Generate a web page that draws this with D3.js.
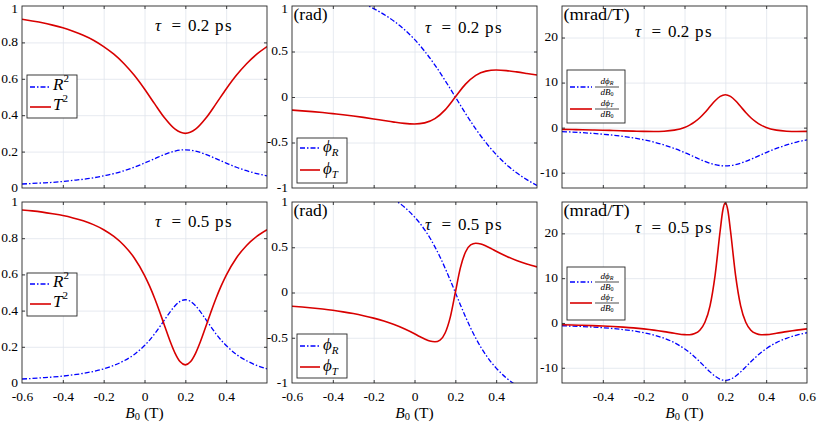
<!DOCTYPE html>
<html><head><meta charset="utf-8">
<script src="https://cdn.jsdelivr.net/npm/d3@7"></script>
<style>
body{margin:0;background:#fff}
svg{display:block}
text{font-family:"Liberation Serif","DejaVu Serif",serif;fill:#000}
</style>
</head><body>
<svg id="c" width="817" height="423"></svg>
<script>
// ---- data (B0 in T) ----
const B = [-0.6,-0.55,-0.5,-0.45,-0.4,-0.35,-0.3,-0.25,-0.2,-0.15,-0.1,-0.05,0,0.05,0.1,0.15,0.2,0.25,0.3,0.35,0.4,0.45,0.5,0.55,0.6];
const BF = [-0.6,-0.55,-0.5,-0.45,-0.4,-0.35,-0.3,-0.25,-0.2,-0.15,-0.1,-0.05,0,0.025,0.05,0.075,0.1,0.125,0.15,0.175,0.2,0.225,0.25,0.275,0.3,0.325,0.35,0.375,0.4,0.45,0.5,0.55,0.6];
const BP = [-0.6,-0.55,-0.5,-0.45,-0.4,-0.35,-0.3,-0.25,-0.2,-0.15,-0.1,-0.05,0,0.025,0.05,0.075,0.1,0.125,0.15,0.175,0.1875,0.2,0.2125,0.225,0.25,0.275,0.3,0.325,0.35,0.375,0.4,0.45,0.5,0.55,0.6];

// tau = 0.2 ps
const R2_a = [0.022,0.025,0.028,0.031,0.036,0.042,0.048,0.056,0.067,0.079,0.095,0.114,0.137,0.161,0.185,0.203,0.21,0.203,0.185,0.161,0.137,0.114,0.095,0.079,0.067];
const T2_a = [0.927,0.918,0.908,0.895,0.880,0.861,0.839,0.812,0.777,0.735,0.683,0.619,0.544,0.462,0.383,0.323,0.300,0.323,0.383,0.462,0.544,0.619,0.683,0.735,0.777];
const phiR_a = [1.241,1.222,1.199,1.173,1.144,1.110,1.071,1.025,0.972,0.908,0.833,0.742,0.633,0.502,0.351,0.181,0,-0.181,-0.351,-0.502,-0.633,-0.742,-0.833,-0.908,-0.972];
const phiT_a = [-0.144,-0.152,-0.161,-0.171,-0.183,-0.195,-0.209,-0.224,-0.241,-0.259,-0.276,-0.290,-0.296,-0.284,-0.238,-0.141,0,0.141,0.238,0.284,0.296,0.290,0.276,0.259,0.241];
const dR_a = [-0.88,-0.99,-1.12,-1.28,-1.46,-1.68,-1.96,-2.29,-2.70,-3.21,-3.85,-4.62,-5.53,-6.53,-7.50,-8.22,-8.5,-8.22,-7.50,-6.53,-5.53,-4.62,-3.85,-3.21,-2.70];
const dT_a = [-0.38,-0.42,-0.46,-0.51,-0.57,-0.64,-0.71,-0.77,-0.83,-0.85,-0.79,-0.56,0.03,0.55,1.26,2.19,3.36,4.68,5.97,6.93,7.30,6.93,5.97,4.68,3.36,2.19,1.26,0.55,0.03,-0.56,-0.79,-0.85,-0.83];

// tau = 0.5 ps
const R2_b = [0.022,0.025,0.029,0.033,0.038,0.045,0.053,0.064,0.078,0.097,0.123,0.158,0.207,0.237,0.272,0.311,0.352,0.392,0.427,0.451,0.46,0.451,0.427,0.392,0.352,0.311,0.272,0.237,0.207,0.158,0.123,0.097,0.078];
const T2_b = [0.956,0.951,0.944,0.935,0.925,0.912,0.896,0.875,0.847,0.810,0.760,0.691,0.595,0.535,0.467,0.391,0.311,0.232,0.164,0.117,0.100,0.117,0.164,0.232,0.311,0.391,0.467,0.535,0.595,0.691,0.760,0.810,0.847];
const phiR_b = [1.348,1.334,1.318,1.299,1.278,1.253,1.223,1.188,1.146,1.094,1.028,0.944,0.835,0.769,0.692,0.605,0.504,0.393,0.269,0.137,0,-0.137,-0.269,-0.393,-0.504,-0.605,-0.692,-0.769,-0.835,-0.944,-1.028,-1.094,-1.146];
const phiT_b = [-0.151,-0.160,-0.171,-0.183,-0.197,-0.214,-0.233,-0.256,-0.283,-0.315,-0.354,-0.401,-0.456,-0.487,-0.514,-0.537,-0.545,-0.526,-0.448,-0.275,0,0.275,0.448,0.526,0.545,0.537,0.514,0.487,0.456,0.401,0.354,0.315,0.283];
const dR_b = [-0.62,-0.70,-0.80,-0.92,-1.07,-1.25,-1.48,-1.78,-2.18,-2.70,-3.42,-4.39,-5.76,-6.60,-7.58,-8.67,-9.80,-10.92,-11.89,-12.56,-12.8,-12.56,-11.89,-10.92,-9.80,-8.67,-7.58,-6.60,-5.76,-4.39,-3.42,-2.70,-2.18];
const dT_b = [-0.40,-0.45,-0.52,-0.59,-0.68,-0.79,-0.93,-1.10,-1.32,-1.59,-1.93,-2.31,-2.61,-2.62,-2.37,-1.61,0.16,3.83,10.7,20.7,25.1,26.8,25.1,20.7,10.7,3.83,0.16,-1.61,-2.37,-2.62,-2.61,-2.31,-1.93,-1.59,-1.32];

// ticks
const XGRID = [-0.4,-0.2,0,0.2,0.4];
const XLAB_A = [-0.6,-0.4,-0.2,0,0.2,0.4];
const XLAB_B = [-0.4,-0.2,0,0.2,0.4,0.6];
const YT_1 = [0,0.2,0.4,0.6,0.8,1];
const YT_2 = [-1,-0.5,0,0.5,1];
const YT_3 = [-10,0,10,20];
const TAUS = ["0.2","0.5"];

// ---- layout ----
const FONT='"Liberation Serif","DejaVu Serif",serif';
const RED="#d80000", BLUE="#0000ff", GRID="#dfe5ec", FRAME="#262626";
const rows=[{y0:6,y1:188},{y0:202,y1:383}];
const cols=[{x0:22,x1:267},{x0:292,x1:537},{x0:562,x1:807}];
const svg=d3.select("#c");
svg.append("rect").attr("width",817).attr("height",423).attr("fill","#fff");

const panels=[
 {r:0,c:0,yd:[0,1],yt:YT_1,s:[[B,R2_a,"b"],[B,T2_a,"r"]],tau:[155,31],leg:{kind:"sq",box:[27,77,75,118],ys:[87,107],lx:[30,51],names:["R","T"]}},
 {r:0,c:1,yd:[-1,1],yt:YT_2,s:[[B,phiR_a,"b"],[B,phiT_a,"r"]],tau:[425,33],unit:"(rad)",leg:{kind:"phi",box:[297,347,138,183],ys:[148,170],lx:[300,320],names:["R","T"]}},
 {r:0,c:2,yd:[-13.4,27],yt:YT_3,s:[[B,dR_a,"b"],[BF,dT_a,"r"]],tau:[635,37],unit:"(mrad/T)",leg:{kind:"frac",box:[567,625,70,123],ys:[87,109],lx:[570,592],names:["R","T"]}},
 {r:1,c:0,yd:[0,1],yt:YT_1,s:[[BF,R2_b,"b"],[BF,T2_b,"r"]],tau:[155,227],xl:XLAB_A,leg:{kind:"sq",box:[27,77,273,316],ys:[284,304],lx:[30,51],names:["R","T"]}},
 {r:1,c:1,yd:[-1,1],yt:YT_2,s:[[BF,phiR_b,"b"],[BF,phiT_b,"r"]],tau:[425,230],unit:"(rad)",xl:XLAB_A,leg:{kind:"phi",box:[297,347,334,378],ys:[346,367],lx:[300,320],names:["R","T"]}},
 {r:1,c:2,yd:[-13.4,27],yt:YT_3,s:[[BF,dR_b,"b"],[BP,dT_b,"r"]],tau:[635,233],unit:"(mrad/T)",xl:XLAB_B,leg:{kind:"frac",box:[567,625,267,320],ys:[282,303],lx:[570,592],names:["R","T"]}}
];

function styleLine(sel,t){
  if(t==="b") sel.attr("stroke",BLUE).attr("stroke-width",1.3).attr("stroke-dasharray","5,2,1.5,2");
  else sel.attr("stroke",RED).attr("stroke-width",1.6);
}
function txt(sel,size){return sel.attr("font-family",FONT).attr("font-size",size).attr("fill","#000");}

panels.forEach((p,i)=>{
  const {x0,x1}=cols[p.c], {y0,y1}=rows[p.r];
  const w=x1-x0,h=y1-y0;
  const xs=d3.scaleLinear([-0.6,0.6],[x0,x1]);
  const ys=d3.scaleLinear(p.yd,[y1,y0]);
  const g=svg.append("g");
  const cid="clip"+i;
  g.append("clipPath").attr("id",cid).append("rect").attr("x",x0).attr("y",y0).attr("width",w).attr("height",h);
  const ygrid=p.yt.filter(v=>ys(v)>y0+1&&ys(v)<y1-1);
  g.append("g").attr("transform",`translate(0,${y1})`)
    .call(d3.axisBottom(xs).tickValues(XGRID).tickSize(-h).tickFormat(""))
    .call(s=>{s.select(".domain").remove();s.selectAll("line").attr("stroke",GRID).attr("stroke-width",0.8);});
  g.append("g").attr("transform",`translate(${x0},0)`)
    .call(d3.axisLeft(ys).tickValues(ygrid).tickSize(-w).tickFormat(""))
    .call(s=>{s.select(".domain").remove();s.selectAll("line").attr("stroke",GRID).attr("stroke-width",0.8);});
  const line=d3.line().x(d=>xs(d[0])).y(d=>ys(d[1])).curve(d3.curveMonotoneX);
  const lg=g.append("g").attr("clip-path",`url(#${cid})`);
  p.s.forEach(([xa,ya,t])=>{
    const pts=xa.map((x,k)=>[x,ya[k]]);
    lg.append("path").datum(pts).attr("d",line).attr("fill","none").call(styleLine,t);
  });
  g.append("rect").attr("x",x0).attr("y",y0).attr("width",w).attr("height",h)
    .attr("fill","none").attr("stroke",FRAME).attr("stroke-width",0.9);
  const tk=s=>{s.select(".domain").remove();s.selectAll("line").attr("stroke",FRAME).attr("stroke-width",0.9);};
  g.append("g").attr("transform",`translate(0,${y1})`).call(d3.axisBottom(xs).tickValues(XGRID).tickSize(-3).tickFormat("")).call(tk);
  g.append("g").attr("transform",`translate(0,${y0})`).call(d3.axisTop(xs).tickValues(XGRID).tickSize(-3).tickFormat("")).call(tk);
  g.append("g").attr("transform",`translate(${x0},0)`).call(d3.axisLeft(ys).tickValues(ygrid).tickSize(-3).tickFormat("")).call(tk);
  g.append("g").attr("transform",`translate(${x1},0)`).call(d3.axisRight(ys).tickValues(ygrid).tickSize(-3).tickFormat("")).call(tk);
  // y tick labels: keep the top label inside the picture
  g.append("g").attr("transform",`translate(${x0},0)`)
    .call(d3.axisLeft(ys).tickValues(p.yt).tickSize(0).tickPadding(4).tickFormat(d=>String(d)))
    .call(s=>{s.select(".domain").remove();
      s.selectAll("text").call(txt,13.5).attr("dy",0)
        .attr("y",function(d){const b=ys(d)+3.4;return (b<12.5? 12.5-ys(d) : 3.4);});});
  if(p.xl){
    g.append("g").attr("transform",`translate(0,${y1})`)
      .call(d3.axisBottom(xs).tickValues(p.xl).tickSize(0).tickFormat(d=>String(d)))
      .call(s=>{s.select(".domain").remove();s.selectAll("text").call(txt,13.5).attr("y",18.2).attr("dy",0);});
    const xt=g.append("text").attr("x",(x0+x1)/2).attr("y",417.5).attr("text-anchor","middle").call(txt,15.5);
    xt.append("tspan").attr("font-style","italic").text("B");
    xt.append("tspan").attr("font-size",10.5).attr("dy",2.5).text("0");
    xt.append("tspan").attr("dy",-2.5).text(" (T)");
  }
  if(p.unit){
    g.append("text").attr("x",x0+1.5).attr("y",y0+14).call(txt,16).text(p.unit)
      .attr("textLength",p.unit==="(rad)"?34:66).attr("lengthAdjust","spacingAndGlyphs");
  }
  const [tx,ty]=p.tau;
  const tt=g.append("text").attr("x",tx).attr("y",ty).call(txt,17);
  tt.append("tspan").attr("font-style","italic").text("τ");
  tt.append("tspan").attr("x",tx+16.5).text("=");
  tt.append("tspan").attr("x",tx+33).text(TAUS[p.r]);
  tt.append("tspan").attr("x",tx+60).attr("letter-spacing",1.5).text("ps");
  const L=p.leg;
  const lgd=g.append("g");
  lgd.append("rect").attr("x",L.box[0]).attr("y",L.box[2]).attr("width",L.box[1]-L.box[0]).attr("height",L.box[3]-L.box[2])
    .attr("fill","#fff").attr("stroke",FRAME).attr("stroke-width",0.9);
  ["b","r"].forEach((t,k)=>{
    const yy=L.ys[k];
    lgd.append("line").attr("x1",L.lx[0]).attr("x2",L.lx[1]).attr("y1",yy).attr("y2",yy).call(styleLine,t);
    const nm=L.names[k];
    if(L.kind==="sq"){
      const te=lgd.append("text").attr("x",L.lx[1]+2).attr("y",yy+3).call(txt,17);
      te.append("tspan").attr("font-style","italic").text(nm);
      te.append("tspan").attr("font-size",11).attr("dy",-8).text("2");
    } else if(L.kind==="phi"){
      const te=lgd.append("text").attr("x",L.lx[1]+3).attr("y",yy+4).call(txt,17);
      te.append("tspan").attr("font-style","italic").text("ϕ");
      te.append("tspan").attr("font-style","italic").attr("font-size",11).attr("dy",4).text(nm);
    } else {
      const cx=L.lx[1]+15;
      const n=lgd.append("text").attr("x",cx).attr("y",yy-3).attr("text-anchor","middle").call(txt,9).attr("font-style","italic");
      n.append("tspan").text("dϕ");
      n.append("tspan").attr("font-size",6).attr("dy",1).text(nm);
      lgd.append("line").attr("x1",L.lx[1]+3).attr("x2",L.lx[1]+27).attr("y1",yy).attr("y2",yy).attr("stroke","#000").attr("stroke-width",0.7);
      const dd=lgd.append("text").attr("x",cx).attr("y",yy+8).attr("text-anchor","middle").call(txt,9).attr("font-style","italic");
      dd.append("tspan").text("dB");
      dd.append("tspan").attr("font-size",6).attr("font-style","normal").attr("dy",1).text("0");
    }
  });
});
</script>
</body></html>
